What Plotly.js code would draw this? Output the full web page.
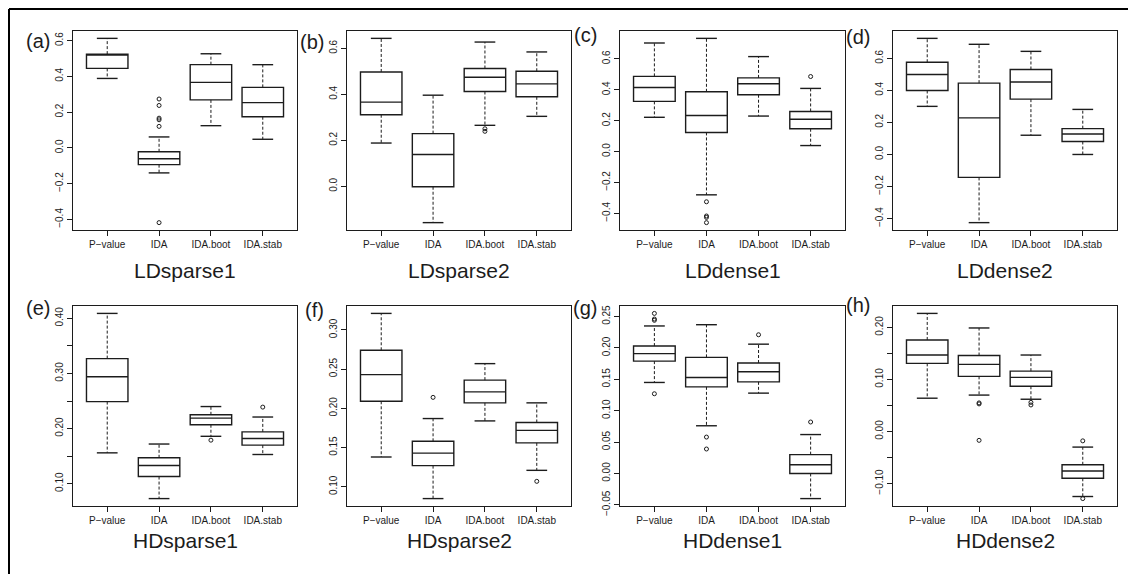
<!DOCTYPE html>
<html>
<head>
<meta charset="utf-8">
<script src="https://cdn.plot.ly/plotly-3.0.1.min.js"></script>
<style>
  html, body { margin: 0; padding: 0; background: #ffffff; }
  #chart { width: 1128px; height: 574px; }
</style>
</head>
<body>
<div id="chart"></div>
<script>
// ---------------- data ----------------
const CATEGORIES = ['P\u2212value', 'IDA', 'IDA.boot', 'IDA.stab'];
const PANEL_NAMES = ['LDsparse1', 'LDsparse2', 'LDdense1', 'LDdense2',
                     'HDsparse1', 'HDsparse2', 'HDdense1', 'HDdense2'];
const PANEL_TAGS = ['(a)', '(b)', '(c)', '(d)', '(e)', '(f)', '(g)', '(h)'];

// (a) LDsparse1
const LDsparse1_upper  = [0.612, 0.061, 0.526, 0.465];
const LDsparse1_q3     = [0.524, -0.022, 0.465, 0.338];
const LDsparse1_median = [0.524, -0.061, 0.366, 0.253];
const LDsparse1_q1     = [0.444, -0.094, 0.268, 0.174];
const LDsparse1_lower  = [0.388, -0.140, 0.124, 0.048];
const LDsparse1_outCat = ['IDA', 'IDA', 'IDA', 'IDA', 'IDA', 'IDA'];
const LDsparse1_outVal = [0.273, 0.237, 0.166, 0.157, 0.120, -0.418];

// (b) LDsparse2
const LDsparse2_upper  = [0.643, 0.396, 0.627, 0.584];
const LDsparse2_q3     = [0.497, 0.229, 0.512, 0.500];
const LDsparse2_median = [0.366, 0.138, 0.474, 0.445];
const LDsparse2_q1     = [0.311, -0.002, 0.412, 0.389];
const LDsparse2_lower  = [0.188, -0.158, 0.265, 0.304];
const LDsparse2_outCat = ['IDA.boot', 'IDA.boot'];
const LDsparse2_outVal = [0.250, 0.239];

// (c) LDdense1
const LDdense1_upper  = [0.703, 0.733, 0.615, 0.409];
const LDdense1_q3     = [0.487, 0.387, 0.477, 0.260];
const LDdense1_median = [0.415, 0.234, 0.439, 0.209];
const LDdense1_q1     = [0.325, 0.124, 0.368, 0.148];
const LDdense1_lower  = [0.222, -0.280, 0.230, 0.039];
const LDdense1_outCat = ['IDA', 'IDA', 'IDA', 'IDA', 'IDA.stab'];
const LDdense1_outVal = [-0.325, -0.417, -0.426, -0.460, 0.486];

// (d) LDdense2
const LDdense2_upper  = [0.724, 0.687, 0.643, 0.281];
const LDdense2_q3     = [0.575, 0.445, 0.530, 0.161];
const LDdense2_median = [0.499, 0.228, 0.452, 0.128];
const LDdense2_q1     = [0.399, -0.143, 0.345, 0.081];
const LDdense2_lower  = [0.300, -0.425, 0.120, 0.000];
const LDdense2_outCat = [];
const LDdense2_outVal = [];

// (e) HDsparse1
const HDsparse1_upper  = [0.409, 0.172, 0.240, 0.221];
const HDsparse1_q3     = [0.327, 0.147, 0.225, 0.194];
const HDsparse1_median = [0.294, 0.133, 0.219, 0.182];
const HDsparse1_q1     = [0.249, 0.113, 0.207, 0.170];
const HDsparse1_lower  = [0.156, 0.073, 0.186, 0.153];
const HDsparse1_outCat = ['IDA.boot', 'IDA.stab'];
const HDsparse1_outVal = [0.179, 0.239];

// (f) HDsparse2
const HDsparse2_upper  = [0.321, 0.187, 0.257, 0.207];
const HDsparse2_q3     = [0.274, 0.158, 0.236, 0.182];
const HDsparse2_median = [0.243, 0.143, 0.221, 0.172];
const HDsparse2_q1     = [0.209, 0.127, 0.207, 0.156];
const HDsparse2_lower  = [0.138, 0.085, 0.184, 0.121];
const HDsparse2_outCat = ['IDA', 'IDA.stab'];
const HDsparse2_outVal = [0.214, 0.107];

// (g) HDdense1
const HDdense1_upper  = [0.235, 0.237, 0.206, 0.062];
const HDdense1_q3     = [0.203, 0.185, 0.176, 0.030];
const HDdense1_median = [0.191, 0.153, 0.162, 0.014];
const HDdense1_q1     = [0.179, 0.138, 0.146, 0.000];
const HDdense1_lower  = [0.145, 0.076, 0.128, -0.040];
const HDdense1_outCat = ['P\u2212value', 'P\u2212value', 'P\u2212value', 'P\u2212value', 'IDA', 'IDA', 'IDA.boot', 'IDA.stab'];
const HDdense1_outVal = [0.255, 0.246, 0.244, 0.127, 0.058, 0.039, 0.221, 0.082];

// (h) HDdense2
const HDdense2_upper  = [0.227, 0.199, 0.147, -0.030];
const HDdense2_q3     = [0.176, 0.146, 0.116, -0.064];
const HDdense2_median = [0.147, 0.129, 0.104, -0.076];
const HDdense2_q1     = [0.131, 0.106, 0.087, -0.090];
const HDdense2_lower  = [0.064, 0.070, 0.062, -0.125];
const HDdense2_outCat = ['IDA', 'IDA', 'IDA', 'IDA.boot', 'IDA.boot', 'IDA.stab', 'IDA.stab'];
const HDdense2_outVal = [0.055, 0.053, -0.017, 0.056, 0.051, -0.018, -0.129];

// ---------------- assembly ----------------
const PANELS = [
  [LDsparse1_upper, LDsparse1_q3, LDsparse1_median, LDsparse1_q1, LDsparse1_lower, LDsparse1_outCat, LDsparse1_outVal],
  [LDsparse2_upper, LDsparse2_q3, LDsparse2_median, LDsparse2_q1, LDsparse2_lower, LDsparse2_outCat, LDsparse2_outVal],
  [LDdense1_upper, LDdense1_q3, LDdense1_median, LDdense1_q1, LDdense1_lower, LDdense1_outCat, LDdense1_outVal],
  [LDdense2_upper, LDdense2_q3, LDdense2_median, LDdense2_q1, LDdense2_lower, LDdense2_outCat, LDdense2_outVal],
  [HDsparse1_upper, HDsparse1_q3, HDsparse1_median, HDsparse1_q1, HDsparse1_lower, HDsparse1_outCat, HDsparse1_outVal],
  [HDsparse2_upper, HDsparse2_q3, HDsparse2_median, HDsparse2_q1, HDsparse2_lower, HDsparse2_outCat, HDsparse2_outVal],
  [HDdense1_upper, HDdense1_q3, HDdense1_median, HDdense1_q1, HDdense1_lower, HDdense1_outCat, HDdense1_outVal],
  [HDdense2_upper, HDdense2_q3, HDdense2_median, HDdense2_q1, HDdense2_lower, HDdense2_outCat, HDdense2_outVal]
];

const W = 1128, H = 574;
const COLS = [[73, 297], [347, 571], [620, 845], [893, 1117]];
const ROWS = [[31, 230], [306, 506]];
const TICK_STEP  = [0.2, 0.2, 0.2, 0.2, 0.05, 0.05, 0.05, 0.05];
const LABEL_STEP = [0.2, 0.2, 0.2, 0.2, 0.1, 0.05, 0.05, 0.1];
const DECIMALS   = [1, 1, 1, 1, 2, 2, 2, 2];
const TAG_Y = [41, 42, 35, 37, 308, 310, 308, 305];
const TITLE_Y = [270, 540];

const INK = '#1c1c1c';
const FONT = '"Liberation Sans", Arial, Helvetica, sans-serif';

function fmt(v, d) {
  let s = (Math.abs(v) < 1e-9 ? 0 : v).toFixed(d);
  return s.replace('-', '\u2212');
}
function makeTicks(lo, hi, step, labelStep, dec) {
  const vals = [], text = [];
  const start = Math.ceil(lo / step - 1e-9), end = Math.floor(hi / step + 1e-9);
  for (let k = start; k <= end; k++) {
    const v = k * step;
    vals.push(v);
    const r = v / labelStep;
    text.push(Math.abs(r - Math.round(r)) < 1e-6 ? fmt(v, dec) : '');
  }
  return {vals, text};
}

const traces = [];
const layout = {
  width: W, height: H,
  margin: {l: 0, r: 0, t: 0, b: 0},
  paper_bgcolor: '#ffffff', plot_bgcolor: '#ffffff',
  showlegend: false,
  font: {family: FONT, color: INK, size: 10},
  annotations: [],
  shapes: [
    {type: 'line', xref: 'paper', yref: 'paper', x0: 9 / W, x1: 1, y0: 1 - 9 / H, y1: 1 - 9 / H, line: {color: '#000', width: 2}},
    {type: 'line', xref: 'paper', yref: 'paper', x0: 9 / W, x1: 9 / W, y0: 0, y1: 1 - 9 / H, line: {color: '#000', width: 2}}
  ]
};

PANELS.forEach((P, p) => {
  const [up, q3, med, q1, lo, outCat, outVal] = P;
  const col = p % 4, row = Math.floor(p / 4);
  const xid = p === 0 ? 'x' : 'x' + (p + 1);
  const yid = p === 0 ? 'y' : 'y' + (p + 1);
  const xkey = p === 0 ? 'xaxis' : 'xaxis' + (p + 1);
  const ykey = p === 0 ? 'yaxis' : 'yaxis' + (p + 1);
  const pos = CATEGORIES.map((c, i) => i + 1);

  // y range like R: data range expanded by 4%
  const all = lo.concat(up, outVal);
  const mn = Math.min(...all), mx = Math.max(...all);
  const pad = 0.04 * (mx - mn);
  const yr = [mn - pad, mx + pad];
  const t = makeTicks(yr[0], yr[1], TICK_STEP[p], LABEL_STEP[p], DECIMALS[p]);

  // whiskers (dashed) and staples
  const wx = [], wy = [], sx = [], sy = [];
  pos.forEach((x, i) => {
    wx.push(x, x, null, x, x, null);
    wy.push(q3[i], up[i], null, q1[i], lo[i], null);
    sx.push(x - 0.2, x + 0.2, null, x - 0.2, x + 0.2, null);
    sy.push(up[i], up[i], null, lo[i], lo[i], null);
  });
  traces.push({type: 'scatter', mode: 'lines', x: wx, y: wy, xaxis: xid, yaxis: yid,
    line: {color: INK, width: 1, dash: '3px,2px'}, hoverinfo: 'skip'});
  traces.push({type: 'scatter', mode: 'lines', x: sx, y: sy, xaxis: xid, yaxis: yid,
    line: {color: INK, width: 1.4}, hoverinfo: 'skip'});
  traces.push({type: 'box', x: pos, q1: q1, median: med, q3: q3,
    lowerfence: q1, upperfence: q3, width: 0.8, whiskerwidth: 0,
    boxpoints: false, xaxis: xid, yaxis: yid,
    line: {color: INK, width: 1.4}, fillcolor: 'rgba(255,255,255,0)', hoverinfo: 'skip'});
  if (outVal.length) {
    traces.push({type: 'scatter', mode: 'markers', xaxis: xid, yaxis: yid,
      x: outCat.map(c => CATEGORIES.indexOf(c) + 1), y: outVal,
      marker: {symbol: 'circle-open', size: 4, color: INK, line: {width: 1, color: INK}},
      hoverinfo: 'skip'});
  }

  const [c0, c1] = COLS[col], [r0, r1] = ROWS[row];
  layout[xkey] = {
    domain: [c0 / W, c1 / W], anchor: yid, range: [0.34, 4.66],
    tickmode: 'array', tickvals: pos, ticktext: CATEGORIES,
    ticks: 'outside', ticklen: 5, tickwidth: 1, tickcolor: INK,
    showline: true, mirror: true, linecolor: INK, linewidth: 1.2,
    showgrid: false, zeroline: false, fixedrange: true,
    tickfont: {family: FONT, size: 10, color: INK}
  };
  layout[ykey] = {
    domain: [1 - r1 / H, 1 - r0 / H], anchor: xid, range: yr,
    tickmode: 'array', tickvals: t.vals, ticktext: t.text, tickangle: -90,
    ticks: 'outside', ticklen: 5, tickwidth: 1, tickcolor: INK,
    showline: true, mirror: true, linecolor: INK, linewidth: 1.2,
    showgrid: false, zeroline: false, fixedrange: true,
    tickfont: {family: FONT, size: 10, color: INK}
  };

  layout.annotations.push({
    xref: 'paper', yref: 'paper', x: (c0 + c1) / 2 / W, y: 1 - TITLE_Y[row] / H,
    xanchor: 'center', yanchor: 'middle', showarrow: false,
    text: PANEL_NAMES[p], font: {family: FONT, size: 21, color: INK}
  });
  layout.annotations.push({
    xref: 'paper', yref: 'paper', x: (c0 - 21) / W, y: 1 - TAG_Y[p] / H,
    xanchor: 'right', yanchor: 'middle', showarrow: false,
    text: PANEL_TAGS[p], font: {family: FONT, size: 20, color: INK}
  });
});

Plotly.newPlot('chart', traces, layout, {displayModeBar: false, staticPlot: true});
</script>
</body>
</html>
